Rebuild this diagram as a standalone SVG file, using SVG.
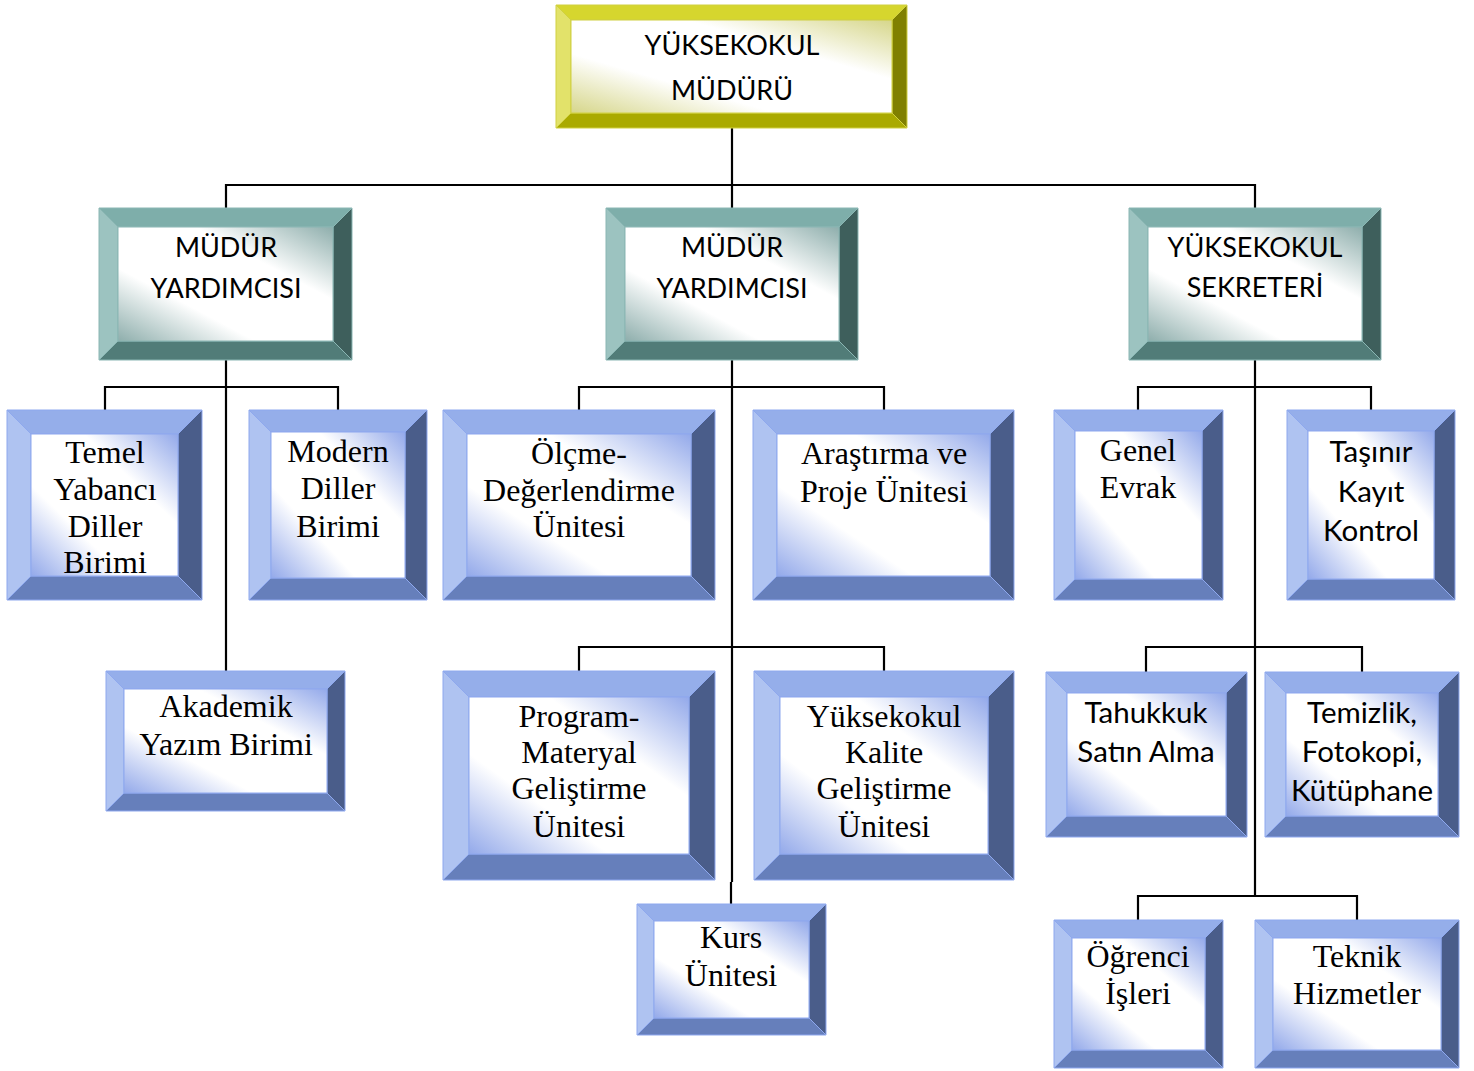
<svg xmlns="http://www.w3.org/2000/svg" width="1474" height="1071" viewBox="0 0 1474 1071">
<defs>
<linearGradient id="gBlue" x1="1" y1="0" x2="0" y2="1">
<stop offset="0" stop-color="#93a9ea"/><stop offset="0.32" stop-color="#ffffff"/><stop offset="0.68" stop-color="#ffffff"/><stop offset="1" stop-color="#93a9ea"/>
</linearGradient>
<linearGradient id="gTeal" x1="1" y1="0" x2="0" y2="1">
<stop offset="0" stop-color="#8eaeac"/><stop offset="0.32" stop-color="#ffffff"/><stop offset="0.68" stop-color="#ffffff"/><stop offset="1" stop-color="#8eaeac"/>
</linearGradient>
<linearGradient id="gYel" x1="1" y1="0" x2="0" y2="1">
<stop offset="0" stop-color="#d6d68a"/><stop offset="0.32" stop-color="#ffffff"/><stop offset="0.68" stop-color="#ffffff"/><stop offset="1" stop-color="#d6d68a"/>
</linearGradient>
</defs>
<style>
.conn path{fill:none;stroke:#000;stroke-width:2.2}
.blue .t{fill:#95aeea}.blue .l{fill:#afc3f1}.blue .r{fill:#4a5d8a}.blue .b{fill:#667fbb}
.blue .f{fill:url(#gBlue)}.blue polygon,.blue rect{stroke:#8ea8ee;stroke-width:1}
.teal .t{fill:#7eaeaa}.teal .l{fill:#9cc3c0}.teal .r{fill:#3e5f5c}.teal .b{fill:#517c78}
.teal .f{fill:url(#gTeal)}.teal polygon,.teal rect{stroke:#8ab6b3;stroke-width:1}
.yel .t{fill:#d6d62e}.yel .l{fill:#e2e26a}.yel .r{fill:#808000}.yel .b{fill:#aaaa00}
.yel .f{fill:url(#gYel)}.yel polygon,.yel rect{stroke:#d0d040;stroke-width:1}
.sans{font-family:Lato,"Liberation Sans",sans-serif;font-size:29.5px;fill:#000;text-anchor:middle}
.caps{font-family:Lato,"Liberation Sans",sans-serif;font-size:27px;fill:#000;text-anchor:middle}
.serif{font-family:"Liberation Serif","Times New Roman",serif;font-size:32px;fill:#000;text-anchor:middle}
</style>
<rect width="1474" height="1071" fill="#fff"/>
<g class="conn" id="connectors">
<path d="M732,128 V208"/>
<path d="M226,208 V185 H1255 V208"/>
<path d="M226,360 V671"/>
<path d="M105,410 V387 H338 V410"/>
<path d="M732,360 V882 M731,882 V904"/>
<path d="M579,410 V387 H884 V410"/>
<path d="M579,671 V647 H884 V671"/>
<path d="M1255,360 V896"/>
<path d="M1138,410 V387 H1371 V410"/>
<path d="M1146,672 V647 H1362 V672"/>
<path d="M1138,920 V896 H1357 V920"/>
</g>
<g id="mudur" class="yel">
<polygon class="t" points="556,5 907,5 892,20 571,20"/>
<polygon class="l" points="556,5 571,20 571,113 556,128"/>
<polygon class="r" points="907,5 907,128 892,113 892,20"/>
<polygon class="b" points="556,128 571,113 892,113 907,128"/>
<rect class="f" x="571" y="20" width="321" height="93"/>
<text class="caps" x="732" y="55">YÜKSEKOKUL</text>
<text class="caps" x="732" y="100">MÜDÜRÜ</text>
</g>
<g id="yard1" class="teal">
<polygon class="t" points="99,208 352,208 333,227 118,227"/>
<polygon class="l" points="99,208 118,227 118,341 99,360"/>
<polygon class="r" points="352,208 352,360 333,341 333,227"/>
<polygon class="b" points="99,360 118,341 333,341 352,360"/>
<rect class="f" x="118" y="227" width="215" height="114"/>
<text class="caps" x="226" y="257">MÜDÜR</text>
<text class="caps" x="226" y="298">YARDIMCISI</text>
</g>
<g id="yard2" class="teal">
<polygon class="t" points="606,208 858,208 839,227 625,227"/>
<polygon class="l" points="606,208 625,227 625,341 606,360"/>
<polygon class="r" points="858,208 858,360 839,341 839,227"/>
<polygon class="b" points="606,360 625,341 839,341 858,360"/>
<rect class="f" x="625" y="227" width="214" height="114"/>
<text class="caps" x="732" y="257">MÜDÜR</text>
<text class="caps" x="732" y="298">YARDIMCISI</text>
</g>
<g id="sekreter" class="teal">
<polygon class="t" points="1129,208 1381,208 1362,227 1148,227"/>
<polygon class="l" points="1129,208 1148,227 1148,341 1129,360"/>
<polygon class="r" points="1381,208 1381,360 1362,341 1362,227"/>
<polygon class="b" points="1129,360 1148,341 1362,341 1381,360"/>
<rect class="f" x="1148" y="227" width="214" height="114"/>
<text class="caps" x="1255" y="257">YÜKSEKOKUL</text>
<text class="caps" x="1255" y="297">SEKRETERİ</text>
</g>
<g id="temel" class="blue">
<polygon class="t" points="7,410 202,410 178,434 31,434"/>
<polygon class="l" points="7,410 31,434 31,576 7,600"/>
<polygon class="r" points="202,410 202,600 178,576 178,434"/>
<polygon class="b" points="7,600 31,576 178,576 202,600"/>
<rect class="f" x="31" y="434" width="147" height="142"/>
<text class="serif" x="105" y="463">Temel</text>
<text class="serif" x="105" y="500">Yabancı</text>
<text class="serif" x="105" y="537">Diller</text>
<text class="serif" x="105" y="573">Birimi</text>
</g>
<g id="modern" class="blue">
<polygon class="t" points="249,410 427,410 405,432 271,432"/>
<polygon class="l" points="249,410 271,432 271,578 249,600"/>
<polygon class="r" points="427,410 427,600 405,578 405,432"/>
<polygon class="b" points="249,600 271,578 405,578 427,600"/>
<rect class="f" x="271" y="432" width="134" height="146"/>
<text class="serif" x="338" y="462">Modern</text>
<text class="serif" x="338" y="499">Diller</text>
<text class="serif" x="338" y="537">Birimi</text>
</g>
<g id="olcme" class="blue">
<polygon class="t" points="443,410 715,410 691,434 467,434"/>
<polygon class="l" points="443,410 467,434 467,576 443,600"/>
<polygon class="r" points="715,410 715,600 691,576 691,434"/>
<polygon class="b" points="443,600 467,576 691,576 715,600"/>
<rect class="f" x="467" y="434" width="224" height="142"/>
<text class="serif" x="579" y="464">Ölçme-</text>
<text class="serif" x="579" y="501">Değerlendirme</text>
<text class="serif" x="579" y="537">Ünitesi</text>
</g>
<g id="arastirma" class="blue">
<polygon class="t" points="753,410 1014,410 990,434 777,434"/>
<polygon class="l" points="753,410 777,434 777,576 753,600"/>
<polygon class="r" points="1014,410 1014,600 990,576 990,434"/>
<polygon class="b" points="753,600 777,576 990,576 1014,600"/>
<rect class="f" x="777" y="434" width="213" height="142"/>
<text class="serif" x="884" y="464">Araştırma ve</text>
<text class="serif" x="884" y="502">Proje Ünitesi</text>
</g>
<g id="genel" class="blue">
<polygon class="t" points="1054,410 1223,410 1202,431 1075,431"/>
<polygon class="l" points="1054,410 1075,431 1075,579 1054,600"/>
<polygon class="r" points="1223,410 1223,600 1202,579 1202,431"/>
<polygon class="b" points="1054,600 1075,579 1202,579 1223,600"/>
<rect class="f" x="1075" y="431" width="127" height="148"/>
<text class="serif" x="1138" y="461">Genel</text>
<text class="serif" x="1138" y="498">Evrak</text>
</g>
<g id="tasinir" class="blue">
<polygon class="t" points="1287,410 1455,410 1434,431 1308,431"/>
<polygon class="l" points="1287,410 1308,431 1308,579 1287,600"/>
<polygon class="r" points="1455,410 1455,600 1434,579 1434,431"/>
<polygon class="b" points="1287,600 1308,579 1434,579 1455,600"/>
<rect class="f" x="1308" y="431" width="126" height="148"/>
<text class="sans" x="1371" y="462">Taşınır</text>
<text class="sans" x="1371" y="502">Kayıt</text>
<text class="sans" x="1371" y="541">Kontrol</text>
</g>
<g id="akademik" class="blue">
<polygon class="t" points="106,671 345,671 327,689 124,689"/>
<polygon class="l" points="106,671 124,689 124,793 106,811"/>
<polygon class="r" points="345,671 345,811 327,793 327,689"/>
<polygon class="b" points="106,811 124,793 327,793 345,811"/>
<rect class="f" x="124" y="689" width="203" height="104"/>
<text class="serif" x="226" y="717">Akademik</text>
<text class="serif" x="226" y="755">Yazım Birimi</text>
</g>
<g id="program" class="blue">
<polygon class="t" points="443,671 715,671 689,697 469,697"/>
<polygon class="l" points="443,671 469,697 469,854 443,880"/>
<polygon class="r" points="715,671 715,880 689,854 689,697"/>
<polygon class="b" points="443,880 469,854 689,854 715,880"/>
<rect class="f" x="469" y="697" width="220" height="157"/>
<text class="serif" x="579" y="727">Program-</text>
<text class="serif" x="579" y="763">Materyal</text>
<text class="serif" x="579" y="799">Geliştirme</text>
<text class="serif" x="579" y="837">Ünitesi</text>
</g>
<g id="kalite" class="blue">
<polygon class="t" points="754,671 1014,671 988,697 780,697"/>
<polygon class="l" points="754,671 780,697 780,854 754,880"/>
<polygon class="r" points="1014,671 1014,880 988,854 988,697"/>
<polygon class="b" points="754,880 780,854 988,854 1014,880"/>
<rect class="f" x="780" y="697" width="208" height="157"/>
<text class="serif" x="884" y="727">Yüksekokul</text>
<text class="serif" x="884" y="763">Kalite</text>
<text class="serif" x="884" y="799">Geliştirme</text>
<text class="serif" x="884" y="837">Ünitesi</text>
</g>
<g id="tahukkuk" class="blue">
<polygon class="t" points="1046,672 1247,672 1226,693 1067,693"/>
<polygon class="l" points="1046,672 1067,693 1067,816 1046,837"/>
<polygon class="r" points="1247,672 1247,837 1226,816 1226,693"/>
<polygon class="b" points="1046,837 1067,816 1226,816 1247,837"/>
<rect class="f" x="1067" y="693" width="159" height="123"/>
<text class="sans" x="1146" y="723">Tahukkuk</text>
<text class="sans" x="1146" y="762">Satın Alma</text>
</g>
<g id="temizlik" class="blue">
<polygon class="t" points="1265,672 1459,672 1438,693 1286,693"/>
<polygon class="l" points="1265,672 1286,693 1286,816 1265,837"/>
<polygon class="r" points="1459,672 1459,837 1438,816 1438,693"/>
<polygon class="b" points="1265,837 1286,816 1438,816 1459,837"/>
<rect class="f" x="1286" y="693" width="152" height="123"/>
<text class="sans" x="1362" y="723">Temizlik,</text>
<text class="sans" x="1362" y="762">Fotokopi,</text>
<text class="sans" x="1362" y="801">Kütüphane</text>
</g>
<g id="kurs" class="blue">
<polygon class="t" points="637,904 826,904 809,921 654,921"/>
<polygon class="l" points="637,904 654,921 654,1018 637,1035"/>
<polygon class="r" points="826,904 826,1035 809,1018 809,921"/>
<polygon class="b" points="637,1035 654,1018 809,1018 826,1035"/>
<rect class="f" x="654" y="921" width="155" height="97"/>
<text class="serif" x="731" y="948">Kurs</text>
<text class="serif" x="731" y="986">Ünitesi</text>
</g>
<g id="ogrenci" class="blue">
<polygon class="t" points="1054,920 1223,920 1205,938 1072,938"/>
<polygon class="l" points="1054,920 1072,938 1072,1050 1054,1068"/>
<polygon class="r" points="1223,920 1223,1068 1205,1050 1205,938"/>
<polygon class="b" points="1054,1068 1072,1050 1205,1050 1223,1068"/>
<rect class="f" x="1072" y="938" width="133" height="112"/>
<text class="serif" x="1138" y="967">Öğrenci</text>
<text class="serif" x="1138" y="1004">İşleri</text>
</g>
<g id="teknik" class="blue">
<polygon class="t" points="1255,920 1459,920 1441,938 1273,938"/>
<polygon class="l" points="1255,920 1273,938 1273,1050 1255,1068"/>
<polygon class="r" points="1459,920 1459,1068 1441,1050 1441,938"/>
<polygon class="b" points="1255,1068 1273,1050 1441,1050 1459,1068"/>
<rect class="f" x="1273" y="938" width="168" height="112"/>
<text class="serif" x="1357" y="967">Teknik</text>
<text class="serif" x="1357" y="1004">Hizmetler</text>
</g>
</svg>
